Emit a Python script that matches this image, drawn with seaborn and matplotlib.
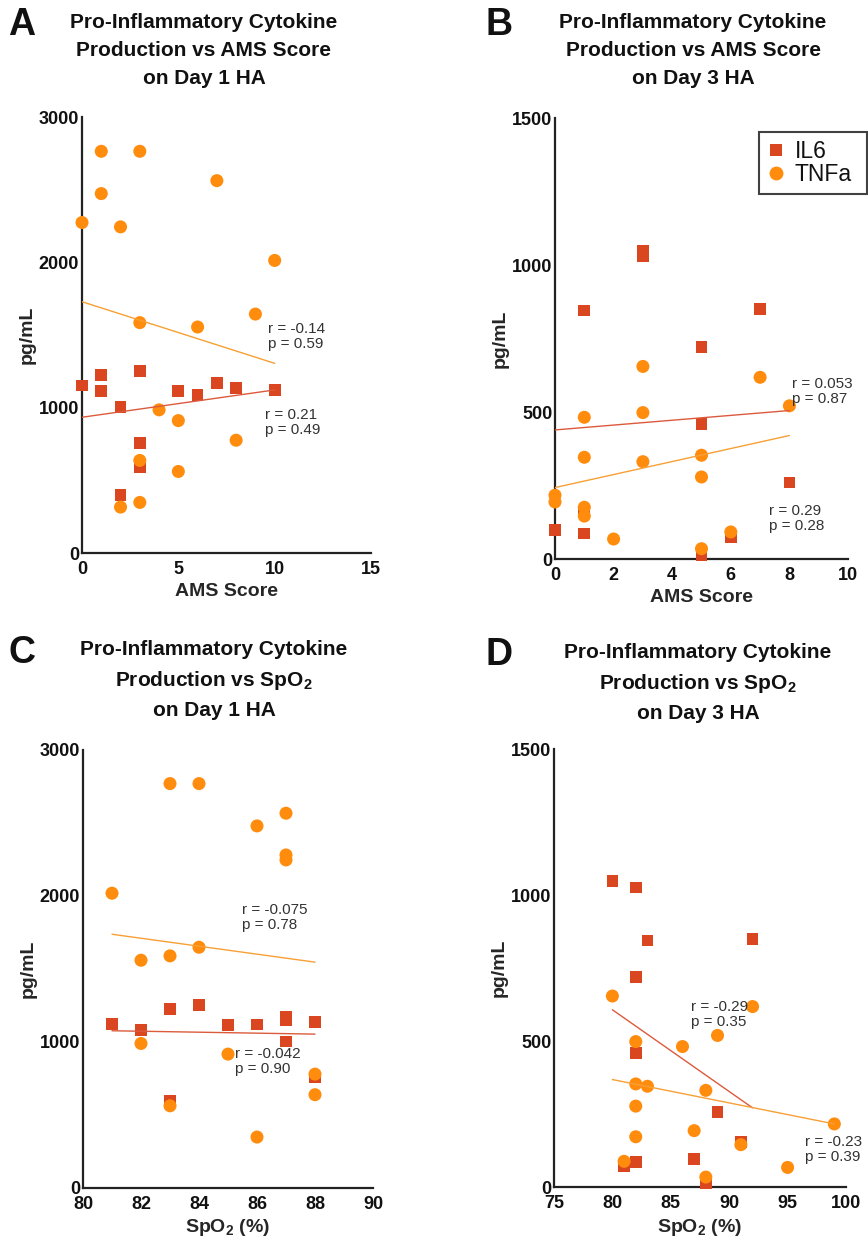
import matplotlib
matplotlib.use("Agg")
import matplotlib.pyplot as plt
import seaborn as sns
import pandas as pd
from matplotlib.lines import Line2D

sns.set_theme(style="white")
plt.rcParams['font.family'] = ['Liberation Sans', 'DejaVu Sans']
plt.rcParams['mathtext.fontset'] = 'custom'
plt.rcParams['mathtext.rm'] = 'Liberation Sans'
plt.rcParams['mathtext.bf'] = 'Liberation Sans:bold'

# ---------------- data ----------------
# Panel A: AMS score, day 1
a_il6_x = [0, 1, 1, 2, 2, 3, 3, 3, 5, 6, 7, 8, 10]
a_il6_y = [1152, 1223, 1117, 1005, 398, 1250, 756, 589, 1115, 1085, 1168, 1136, 1120]
a_tnf_x = [0, 1, 1, 2, 2, 3, 3, 3, 3, 4, 5, 5, 6, 7, 8, 9, 10]
a_tnf_y = [2274, 2764, 2473, 2244, 316, 2764, 1585, 637, 348, 985, 911, 561, 1555, 2562, 776, 1644, 2013]
a_fit_il6_x = [0, 10]
a_fit_il6_y = [934, 1122]
a_fit_tnf_x = [0, 10]
a_fit_tnf_y = [1729, 1305]
a_stats = ["r = -0.14\np = 0.59", "r = 0.21\np = 0.49"]

# Panel B: AMS score, day 3
b_il6_x = [0, 1, 1, 1, 3, 3, 5, 5, 5, 6, 7, 8]
b_il6_y = [98, 845, 87, 160, 1048, 1029, 720, 460, 12, 74, 850, 260]
b_tnf_x = [0, 0, 1, 1, 1, 1, 2, 3, 3, 3, 5, 5, 5, 6, 7, 8]
b_tnf_y = [217, 194, 482, 346, 176, 146, 68, 655, 498, 331, 353, 279, 35, 92, 618, 521]
b_fit_il6_x = [0, 8]
b_fit_il6_y = [439, 505]
b_fit_tnf_x = [0, 8]
b_fit_tnf_y = [243, 420]
b_stats = ["r = 0.053\np = 0.87", "r = 0.29\np = 0.28"]

# Panel C: SpO2, day 1
c_il6_x = [81, 82, 83, 83, 84, 85, 86, 87, 87, 87, 88, 88]
c_il6_y = [1125, 1084, 1227, 598, 1255, 1118, 1120, 1175, 1150, 1004, 1138, 757]
c_tnf_x = [81, 82, 82, 83, 83, 83, 84, 84, 85, 86, 86, 87, 87, 87, 88, 88]
c_tnf_y = [2019, 1560, 990, 2770, 1590, 563, 2770, 1649, 917, 2480, 349, 2567, 2281, 2247, 780, 639]
c_fit_il6_x = [81, 88]
c_fit_il6_y = [1077, 1054]
c_fit_tnf_x = [81, 88]
c_fit_tnf_y = [1738, 1547]
c_stats = ["r = -0.075\np = 0.78", "r = -0.042\np = 0.90"]

# Panel D: SpO2, day 3
d_il6_x = [80, 81, 82, 82, 82, 82, 83, 87, 88, 89, 91, 92]
d_il6_y = [1048, 71, 1026, 720, 458, 86, 844, 96, 14, 258, 153, 849]
d_tnf_x = [80, 81, 82, 82, 82, 82, 83, 86, 87, 88, 88, 89, 91, 92, 95, 99]
d_tnf_y = [654, 88, 498, 353, 277, 172, 345, 481, 193, 331, 34, 519, 145, 618, 67, 216]
d_fit_il6_x = [80, 92]
d_fit_il6_y = [607, 271]
d_fit_tnf_x = [80, 99]
d_fit_tnf_y = [368, 216]
d_stats = ["r = -0.29\np = 0.35", "r = -0.23\np = 0.39"]

titles = [
    "Pro-Inflammatory Cytokine\nProduction vs AMS Score\non Day 1 HA",
    "Pro-Inflammatory Cytokine\nProduction vs AMS Score\non Day 3 HA",
    "Pro-Inflammatory Cytokine\nProduction vs SpO$_\\mathbf{2}$\non Day 1 HA",
    "Pro-Inflammatory Cytokine\nProduction vs SpO$_\\mathbf{2}$\non Day 3 HA",
]
letters = ["A", "B", "C", "D"]
xlabels = ["AMS Score", "AMS Score", "SpO$_\\mathbf{2}$ (%)", "SpO$_\\mathbf{2}$ (%)"]
ylabel = "pg/mL"
series_names = ["IL6", "TNFa"]

# ---------------- style ----------------
IL6_C = "#D9461F"
TNF_C = "#FF8C0D"
IL6_LINE = "#DC5A3C"
TNF_LINE = "#F7A035"

W, H = 868, 1239
fig = plt.figure(figsize=(W / 100, H / 100), dpi=100)

def fx(px):
    return px / W

def fy(py):
    return 1 - py / H

# axes boxes in pixels: left, top, right, bottom
boxes = [(82, 117, 371, 553), (555, 118, 848, 559), (83, 750, 373, 1188), (554, 749, 846, 1187)]
xlims = [(0, 15), (0, 10), (80, 90), (75, 100)]
xticks = [[0, 5, 10, 15], [0, 2, 4, 6, 8, 10], [80, 82, 84, 86, 88, 90], [75, 80, 85, 90, 95, 100]]
ylims = [(0, 3000), (0, 1500), (0, 3000), (0, 1500)]
yticks = [[0, 1000, 2000, 3000], [0, 500, 1000, 1500], [0, 1000, 2000, 3000], [0, 500, 1000, 1500]]

panels = [
    (a_il6_x, a_il6_y, a_tnf_x, a_tnf_y, a_fit_il6_x, a_fit_il6_y, a_fit_tnf_x, a_fit_tnf_y, a_stats),
    (b_il6_x, b_il6_y, b_tnf_x, b_tnf_y, b_fit_il6_x, b_fit_il6_y, b_fit_tnf_x, b_fit_tnf_y, b_stats),
    (c_il6_x, c_il6_y, c_tnf_x, c_tnf_y, c_fit_il6_x, c_fit_il6_y, c_fit_tnf_x, c_fit_tnf_y, c_stats),
    (d_il6_x, d_il6_y, d_tnf_x, d_tnf_y, d_fit_il6_x, d_fit_il6_y, d_fit_tnf_x, d_fit_tnf_y, d_stats),
]
# stat text anchors (top-left) in data coords
stat_pos = [
    [(9.66, 1590), (9.5, 995)],
    [(8.1, 620), (7.3, 187)],
    [(85.49, 1950), (85.24, 969)],
    [(86.7, 641), (96.5, 179)],
]
title_pos = [(204, 13), (693, 13), (214, 640), (698, 643)]
letter_pos = [(8, 7), (486, 7), (8, 635), (486, 637)]

for i, (box, pdata) in enumerate(zip(boxes, panels)):
    l, t, r, b = box
    ax = fig.add_axes([fx(l), fy(b), fx(r - l), (b - t) / H])
    il6x, il6y, tnx, tny, fix_, fiy, ftx, fty, stats = pdata
    df_il6 = pd.DataFrame({"x": il6x, "y": il6y})
    df_tnf = pd.DataFrame({"x": tnx, "y": tny})
    sns.scatterplot(data=df_il6, x="x", y="y", marker="s", s=72, color=IL6_C,
                    edgecolor="none", linewidth=0, ax=ax, clip_on=False, zorder=3)
    sns.scatterplot(data=df_tnf, x="x", y="y", marker="o", s=88, color=TNF_C,
                    edgecolor="none", linewidth=0, ax=ax, clip_on=False, zorder=4)
    sns.lineplot(x=fix_, y=fiy, color=IL6_LINE, linewidth=1.0, ax=ax, zorder=5)
    sns.lineplot(x=ftx, y=fty, color=TNF_LINE, linewidth=1.0, ax=ax, zorder=5)

    ax.set_xlim(*xlims[i])
    ax.set_ylim(*ylims[i])
    ax.set_xticks(xticks[i])
    ax.set_yticks(yticks[i])
    ax.set_xlabel(xlabels[i], fontsize=14, fontweight="bold", labelpad=3)
    ax.set_ylabel(ylabel, fontsize=14, fontweight="bold", labelpad=2)
    ax.tick_params(axis="both", length=0, labelsize=13, colors="#111111")
    ax.tick_params(axis="x", pad=6)
    ax.tick_params(axis="y", pad=2)
    for lab in ax.get_xticklabels() + ax.get_yticklabels():
        lab.set_fontweight("bold")
    for side in ["top", "right"]:
        ax.spines[side].set_visible(False)
    for side in ["left", "bottom"]:
        ax.spines[side].set_linewidth(1.6)
        ax.spines[side].set_color("#222222")
    ax.set_facecolor("none")
    ax.grid(False)

    for (sx, sy), txt in zip(stat_pos[i], stats):
        ax.text(sx, sy, txt, fontsize=11, color="#333333", ha="left", va="top",
                linespacing=1.1, zorder=6)

    tx, ty = title_pos[i]
    fig.text(fx(tx), fy(ty), titles[i], ha="center", va="top", fontsize=15,
             fontweight="bold", linespacing=1.6, color="#111111")
    lx, ly = letter_pos[i]
    fig.text(fx(lx), fy(ly), letters[i], ha="left", va="top", fontsize=27,
             fontweight="bold", color="#111111")

# legend (panel B)
handles = [
    Line2D([], [], linestyle="none", marker="s", markersize=9, color=IL6_C, markeredgewidth=0),
    Line2D([], [], linestyle="none", marker="o", markersize=10, color=TNF_C, markeredgewidth=0),
]
leg = fig.legend(handles, series_names, loc="upper left",
                 bbox_to_anchor=(fx(759), fy(195), fx(867 - 759), 63 / H),
                 mode="expand", frameon=True, fancybox=False, fontsize=16.5,
                 handlelength=0.8, handletextpad=0.4, labelspacing=0.0,
                 borderpad=0.35, borderaxespad=0.0)
leg.get_frame().set_edgecolor("#111111")
leg.get_frame().set_linewidth(1.5)
for tx in leg.get_texts():
    tx.set_color("#111111")

fig.savefig("out.png", dpi=100, facecolor="white")
